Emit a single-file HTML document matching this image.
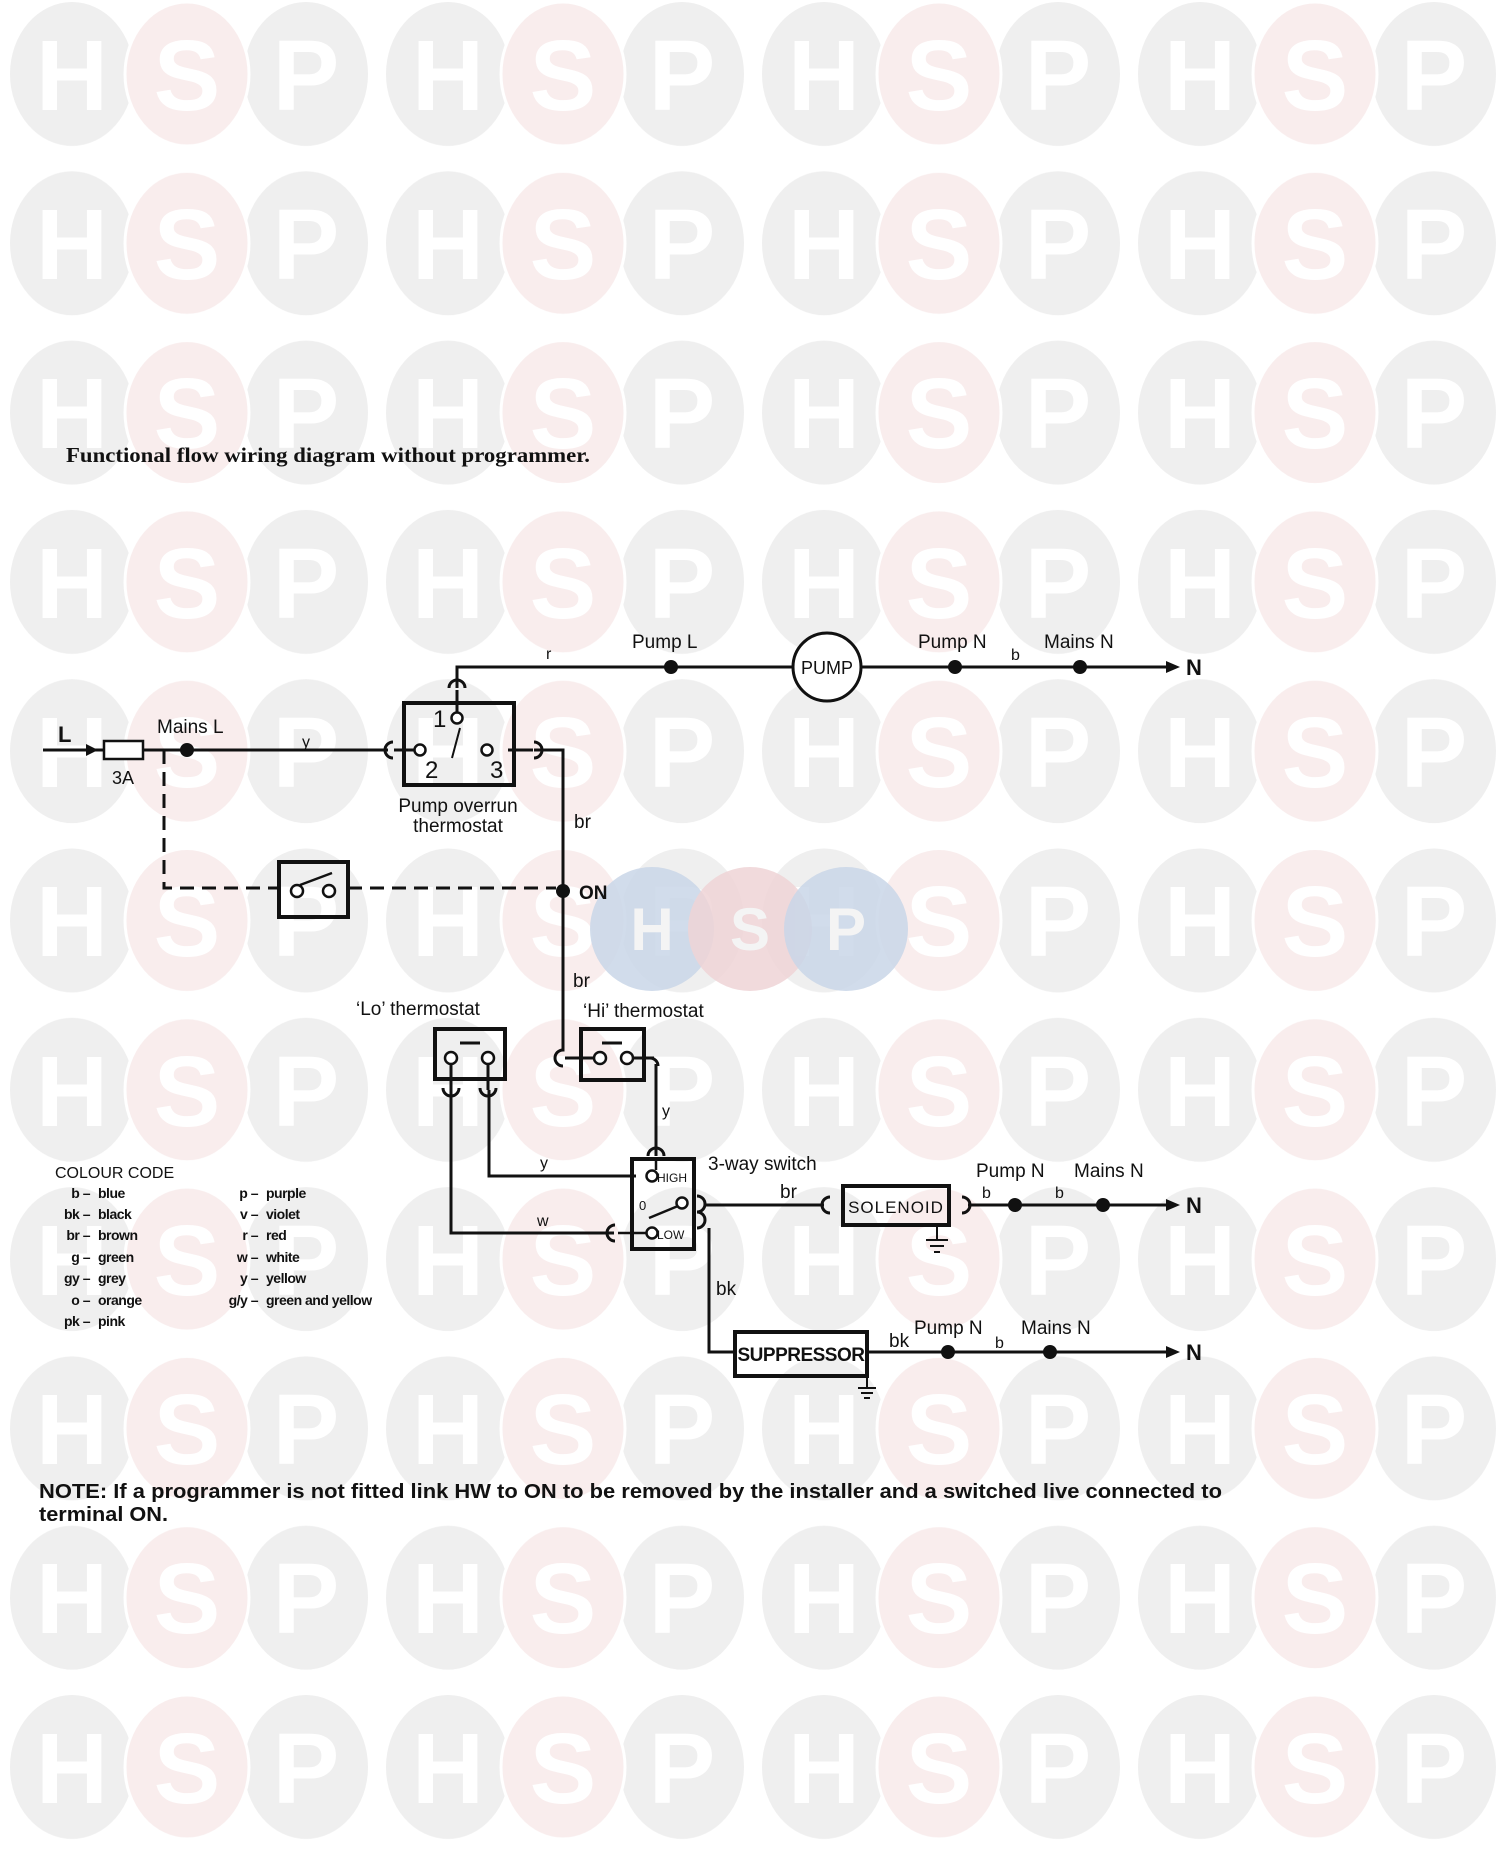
<!DOCTYPE html>
<html><head><meta charset="utf-8"><style>
html,body{margin:0;padding:0;background:#fff}
svg{display:block}
.t{font-family:"Liberation Sans",sans-serif;font-size:19px;fill:#111}
.c{font-family:"Liberation Sans",sans-serif;font-size:14px;font-weight:bold;fill:#111;letter-spacing:-0.5px}
.w{fill:none;stroke:#111;stroke-width:3}
.wm{font-family:"Liberation Sans",sans-serif;font-weight:bold;font-size:100px;fill:#fff;text-anchor:middle}
</style></head><body>
<svg width="1500" height="1861" viewBox="0 0 1500 1861" xmlns="http://www.w3.org/2000/svg">
<defs>
<pattern id="wp" x="0" y="0" width="376" height="169.3" patternUnits="userSpaceOnUse">
<ellipse cx="72" cy="74" rx="62" ry="72" fill="#efefef"/>
<ellipse cx="306" cy="74" rx="62" ry="72" fill="#efefef"/>
<ellipse cx="187" cy="74" rx="62" ry="72" fill="#f9eded" stroke="#fff" stroke-width="3"/>
</pattern>
</defs>
<rect x="0" y="0" width="1500" height="1861" fill="url(#wp)"/>
<g class="wm">
<text x="72 187 306 448 563 682 824 939 1058 1200 1315 1434" y="110">HSPHSPHSPHSP</text>
<text x="72 187 306 448 563 682 824 939 1058 1200 1315 1434" y="279">HSPHSPHSPHSP</text>
<text x="72 187 306 448 563 682 824 939 1058 1200 1315 1434" y="448">HSPHSPHSPHSP</text>
<text x="72 187 306 448 563 682 824 939 1058 1200 1315 1434" y="618">HSPHSPHSPHSP</text>
<text x="72 187 306 448 563 682 824 939 1058 1200 1315 1434" y="787">HSPHSPHSPHSP</text>
<text x="72 187 306 448 563 682 824 939 1058 1200 1315 1434" y="956">HSPHSPHSPHSP</text>
<text x="72 187 306 448 563 682 824 939 1058 1200 1315 1434" y="1126">HSPHSPHSPHSP</text>
<text x="72 187 306 448 563 682 824 939 1058 1200 1315 1434" y="1295">HSPHSPHSPHSP</text>
<text x="72 187 306 448 563 682 824 939 1058 1200 1315 1434" y="1464">HSPHSPHSPHSP</text>
<text x="72 187 306 448 563 682 824 939 1058 1200 1315 1434" y="1633">HSPHSPHSPHSP</text>
<text x="72 187 306 448 563 682 824 939 1058 1200 1315 1434" y="1803">HSPHSPHSPHSP</text>
</g>
<circle cx="652" cy="929" r="62" fill="#c9d6e8" opacity="0.85"/>
<circle cx="750" cy="929" r="62" fill="#eed3d6" opacity="0.85"/>
<circle cx="846" cy="929" r="62" fill="#c9d6e8" opacity="0.85"/>
<g class="wm" style="font-size:60px;fill:#f4f4f4"><text x="652 750 846" y="950">HSP</text></g>

<text x="66" y="462" textLength="524" lengthAdjust="spacingAndGlyphs" style="font-family:'Liberation Serif',serif;font-weight:bold;font-size:21px;fill:#111">Functional flow wiring diagram without programmer.</text>

<path class="w" d="M457 688 V667 H793 M861 667 H1168"/>
<polygon points="1166,661 1180,667 1166,673" fill="#111"/>
<text class="t" x="1186" y="675" style="font-size:22px;font-weight:bold">N</text>
<circle cx="671" cy="667" r="7" fill="#111"/>
<circle cx="955" cy="667" r="7" fill="#111"/>
<circle cx="1080" cy="667" r="7" fill="#111"/>
<circle cx="827" cy="667" r="34" fill="#fff" stroke="#111" stroke-width="3"/>
<text class="t" x="827" y="674" text-anchor="middle" style="font-size:18px">PUMP</text>
<text class="t" x="546" y="659" style="font-size:16px">r</text>
<text class="t" x="632" y="648">Pump L</text>
<text class="t" x="918" y="648">Pump N</text>
<text class="t" x="1011" y="660" style="font-size:16px">b</text>
<text class="t" x="1044" y="648">Mains N</text>

<path class="w" d="M43 750 H388"/>
<polygon points="86,744 98,750 86,756" fill="#111"/>
<rect x="104" y="741" width="39" height="18" fill="#fff" stroke="#111" stroke-width="2.5"/>
<text class="t" x="58" y="742" style="font-size:22px;font-weight:bold">L</text>
<text class="t" x="112" y="784" style="font-size:18px">3A</text>
<circle cx="187" cy="750" r="7" fill="#111"/>
<text class="t" x="157" y="733">Mains L</text>
<text class="t" x="302" y="747" style="font-size:16px">y</text>
<path class="w" d="M393 742 a8 8 0 0 0 0 16 M534 742 a8 8 0 0 1 0 16 M449 688 a8 8 0 0 1 16 0"/>
<rect x="404" y="703" width="110" height="82" fill="none" stroke="#111" stroke-width="4"/>
<path class="w" d="M394 750 H414 M457 690 V712 M508 750 H533"/>
<circle cx="457" cy="718" r="5.5" fill="#fff" stroke="#111" stroke-width="2.5"/>
<circle cx="420" cy="750" r="5.5" fill="#fff" stroke="#111" stroke-width="2.5"/>
<circle cx="487" cy="750" r="5.5" fill="#fff" stroke="#111" stroke-width="2.5"/>
<path class="w" d="M452 758 L460 728" style="stroke-width:2"/>
<text class="t" x="433" y="727" style="font-size:24px">1</text>
<text class="t" x="425" y="778" style="font-size:24px">2</text>
<text class="t" x="490" y="778" style="font-size:24px">3</text>
<text class="t" x="458" y="812" text-anchor="middle">Pump overrun</text>
<text class="t" x="458" y="832" text-anchor="middle">thermostat</text>
<path class="w" d="M534 750 H563 V1032"/>
<text class="t" x="574" y="828">br</text>
<circle cx="563" cy="891" r="7" fill="#111"/>
<text class="t" x="579" y="899" style="font-weight:bold">ON</text>
<text class="t" x="573" y="987">br</text>
<path d="M164 750 V888 H279 M348 888 H556" fill="none" stroke="#111" stroke-width="3" stroke-dasharray="14 8"/>
<rect x="279" y="862" width="69" height="55" fill="none" stroke="#111" stroke-width="4"/>
<circle cx="297" cy="891" r="6" fill="#fff" stroke="#111" stroke-width="2.5"/>
<circle cx="329" cy="891" r="6" fill="#fff" stroke="#111" stroke-width="2.5"/>
<path class="w" d="M300 885 L332 873" style="stroke-width:2.5"/>
<path class="w" d="M563 1032 V1050 a8 8 0 0 0 0 16"/>
<rect x="581" y="1029" width="63" height="51" fill="none" stroke="#111" stroke-width="4"/>
<path class="w" d="M565 1058 H595 M633 1058 H654 M602 1043 H622"/>
<circle cx="600" cy="1058" r="6" fill="#fff" stroke="#111" stroke-width="2.5"/>
<circle cx="627" cy="1058" r="6" fill="#fff" stroke="#111" stroke-width="2.5"/>
<path class="w" d="M650 1058 a8 8 0 0 1 8 8 M656 1064 V1156"/>
<text class="t" x="583" y="1017">‘Hi’ thermostat</text>
<text class="t" x="662" y="1116" style="font-size:16px">y</text>
<rect x="435" y="1029" width="70" height="50" fill="none" stroke="#111" stroke-width="4"/>
<path class="w" d="M460 1043 H480"/>
<circle cx="451" cy="1058" r="6" fill="#fff" stroke="#111" stroke-width="2.5"/>
<circle cx="488" cy="1058" r="6" fill="#fff" stroke="#111" stroke-width="2.5"/>
<path class="w" d="M451 1064 V1090 M488 1064 V1090 M443 1088 a8 8 0 0 0 16 0 M480 1088 a8 8 0 0 0 16 0"/>
<path class="w" d="M451 1090 V1233 H614 M489 1090 V1176 H636"/>
<text class="t" x="356" y="1015">‘Lo’ thermostat</text>
<text class="t" x="540" y="1168" style="font-size:16px">y</text>
<text class="t" x="537" y="1226" style="font-size:16px">w</text>
<path class="w" d="M648 1156 a8 8 0 0 1 16 0 M615 1225 a8 8 0 0 0 0 16"/>
<rect x="632" y="1159" width="62" height="90" fill="none" stroke="#111" stroke-width="4"/>
<circle cx="652" cy="1176" r="5.5" fill="#fff" stroke="#111" stroke-width="2.5"/>
<circle cx="652" cy="1233" r="5.5" fill="#fff" stroke="#111" stroke-width="2.5"/>
<circle cx="682" cy="1203" r="5.5" fill="#fff" stroke="#111" stroke-width="2.5"/>
<path class="w" d="M656 1160 V1170 M618 1233 H646 M649 1218 L678 1206" style="stroke-width:2.5"/>
<text x="657" y="1182" style="font-family:'Liberation Sans',sans-serif;font-size:12px;fill:#111">HIGH</text>
<text x="657" y="1239" style="font-family:'Liberation Sans',sans-serif;font-size:12px;fill:#111">LOW</text>
<text x="639" y="1210" style="font-family:'Liberation Sans',sans-serif;font-size:13px;fill:#111">0</text>
<text class="t" x="708" y="1170">3-way switch</text>
<path class="w" d="M697 1196 a8 8 0 0 1 0 16 M697 1212 a8 8 0 0 1 0 16 M705 1205 H824 M709 1228 V1352 H735"/>
<text class="t" x="780" y="1198">br</text>
<text class="t" x="716" y="1295">bk</text>
<path class="w" d="M830 1197 a8 8 0 0 0 0 16 M962 1197 a8 8 0 0 1 0 16 M968 1205 H1168"/>
<rect x="843" y="1186" width="106" height="39" fill="none" stroke="#111" stroke-width="4"/>
<text class="t" x="896" y="1213" text-anchor="middle" style="font-size:17px;letter-spacing:1px">SOLENOID</text>
<path class="w" d="M937 1225 V1240 M926 1240 H948 M930 1246 H944 M934 1252 H940" style="stroke-width:2"/>
<polygon points="1166,1199 1180,1205 1166,1211" fill="#111"/>
<text class="t" x="1186" y="1213" style="font-size:22px;font-weight:bold">N</text>
<circle cx="1015" cy="1205" r="7" fill="#111"/>
<circle cx="1103" cy="1205" r="7" fill="#111"/>
<text class="t" x="976" y="1177">Pump N</text>
<text class="t" x="1074" y="1177">Mains N</text>
<text class="t" x="982" y="1198" style="font-size:16px">b</text>
<text class="t" x="1055" y="1198" style="font-size:16px">b</text>
<rect x="735" y="1332" width="132" height="44" fill="none" stroke="#111" stroke-width="4"/>
<text class="t" x="801" y="1361" text-anchor="middle" style="font-size:19px;font-weight:bold;letter-spacing:-0.5px">SUPPRESSOR</text>
<path class="w" d="M867 1352 H1168"/>
<path class="w" d="M867 1376 V1388 M858 1388 H876 M861 1393 H873 M864 1398 H870" style="stroke-width:2"/>
<polygon points="1166,1346 1180,1352 1166,1358" fill="#111"/>
<text class="t" x="1186" y="1360" style="font-size:22px;font-weight:bold">N</text>
<circle cx="948" cy="1352" r="7" fill="#111"/>
<circle cx="1050" cy="1352" r="7" fill="#111"/>
<text class="t" x="889" y="1347">bk</text>
<text class="t" x="914" y="1334">Pump N</text>
<text class="t" x="1021" y="1334">Mains N</text>
<text class="t" x="995" y="1348" style="font-size:16px">b</text>
<text x="55" y="1178" style="font-family:'Liberation Sans',sans-serif;font-size:16px;fill:#111">COLOUR CODE</text>
<g class="c">
<text x="90" y="1198" text-anchor="end">b –</text><text x="98" y="1198">blue</text>
<text x="90" y="1219" text-anchor="end">bk –</text><text x="98" y="1219">black</text>
<text x="90" y="1240" text-anchor="end">br –</text><text x="98" y="1240">brown</text>
<text x="90" y="1262" text-anchor="end">g –</text><text x="98" y="1262">green</text>
<text x="90" y="1283" text-anchor="end">gy –</text><text x="98" y="1283">grey</text>
<text x="90" y="1305" text-anchor="end">o –</text><text x="98" y="1305">orange</text>
<text x="90" y="1326" text-anchor="end">pk –</text><text x="98" y="1326">pink</text>
<text x="258" y="1198" text-anchor="end">p –</text><text x="266" y="1198">purple</text>
<text x="258" y="1219" text-anchor="end">v –</text><text x="266" y="1219">violet</text>
<text x="258" y="1240" text-anchor="end">r –</text><text x="266" y="1240">red</text>
<text x="258" y="1262" text-anchor="end">w –</text><text x="266" y="1262">white</text>
<text x="258" y="1283" text-anchor="end">y –</text><text x="266" y="1283">yellow</text>
<text x="258" y="1305" text-anchor="end">g/y –</text><text x="266" y="1305">green and yellow</text>
</g>
<text x="39" y="1498" textLength="1183" lengthAdjust="spacingAndGlyphs" style="font-family:'Liberation Sans',sans-serif;font-size:20px;font-weight:bold;fill:#111">NOTE: If a programmer is not fitted link HW to ON to be removed by the installer and a switched live connected to</text>
<text x="39" y="1521" textLength="129" lengthAdjust="spacingAndGlyphs" style="font-family:'Liberation Sans',sans-serif;font-size:20px;font-weight:bold;fill:#111">terminal ON.</text>
</svg>
</body></html>
